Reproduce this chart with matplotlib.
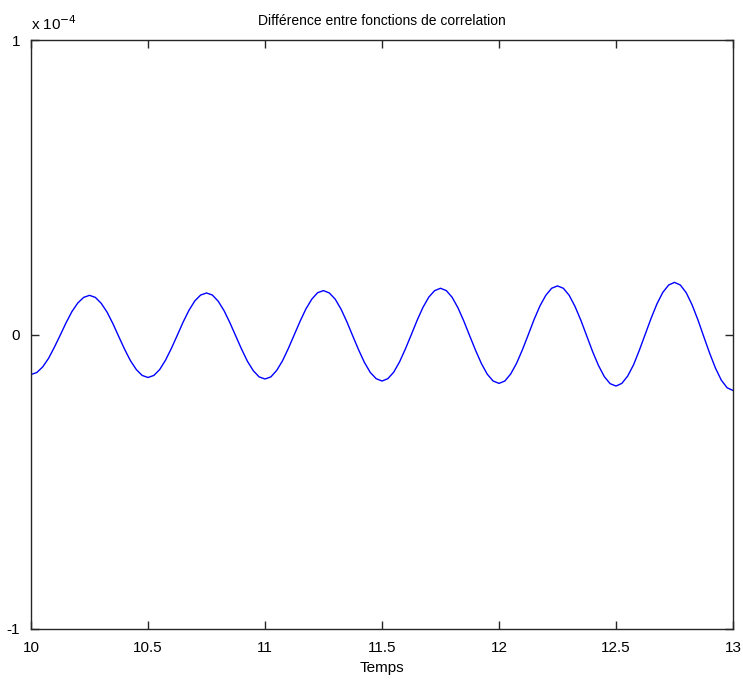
import numpy as np
from matplotlib import pyplot as plt

# time axis, one sample every 0.025 s
temps = np.arange(10.0, 13.0001, 0.025)

# difference values (units of 1e-4)
diff = [
    -0.136, -0.129, -0.110, -0.081, -0.043, -0.002, 0.040, 0.078, 0.107, 0.126,
    0.133, 0.126, 0.106, 0.076, 0.037, -0.007, -0.050, -0.089, -0.119, -0.139,
    -0.146, -0.139, -0.119, -0.087, -0.047, -0.003, 0.042, 0.082, 0.114, 0.134,
    0.141, 0.134, 0.113, 0.081, 0.040, -0.005, -0.050, -0.091, -0.123, -0.144,
    -0.151, -0.144, -0.122, -0.089, -0.047, -0.001, 0.045, 0.087, 0.120, 0.142,
    0.149, 0.141, 0.120, 0.086, 0.043, -0.005, -0.052, -0.095, -0.129, -0.150,
    -0.158, -0.150, -0.128, -0.093, -0.049, -0.001, 0.048, 0.092, 0.127, 0.149,
    0.157, 0.149, 0.126, 0.090, 0.045, -0.005, -0.054, -0.099, -0.135, -0.158,
    -0.166, -0.158, -0.134, -0.098, -0.052, -0.001, 0.051, 0.097, 0.133, 0.157,
    0.165, 0.157, 0.133, 0.095, 0.048, -0.005, -0.058, -0.105, -0.143, -0.167,
    -0.175, -0.166, -0.141, -0.103, -0.053, 0.001, 0.055, 0.104, 0.143, 0.168,
    0.177, 0.168, 0.142, 0.101, 0.050, -0.007, -0.063, -0.114, -0.155, -0.181,
    -0.190,
]

x_ticks = [10, 10.5, 11, 11.5, 12, 12.5, 13]
x_labels = ['10', '10.5', '11', '11.5', '12', '12.5', '13']
y_ticks = [-1e-4, 0, 1e-4]
y_labels = ['-1', '0', '1']

plt.rcParams['font.family'] = ['Liberation Sans', 'DejaVu Sans']

fig = plt.figure(figsize=(7.43, 6.81), dpi=100)
ax = fig.add_axes([31 / 743, 52 / 681, 702 / 743, 589 / 681])

ax.plot(temps, np.array(diff) * 1e-4, color=(0, 0, 1), linewidth=1.0)

ax.set_xlim(10, 13)
ax.set_ylim(-1e-4, 1e-4)
ax.set_xticks(x_ticks)
ax.set_xticklabels(x_labels)
ax.set_yticks(y_ticks)
ax.set_yticklabels(y_labels)
ax.tick_params(direction='in', top=True, right=True, length=6, width=1,
               labelsize=11, color='#262626')
ax.tick_params(axis='x', pad=9)
ax.tick_params(axis='y', pad=8)
for s in ax.spines.values():
    s.set_color('#262626')
    s.set_linewidth(1)

ax.text(0.0, 1.012, 'x 10$^{-4}$', transform=ax.transAxes, fontsize=11,
        ha='left', va='bottom')
ax.set_title('Différence entre fonctions de correlation', fontsize=10, pad=11)
ax.set_xlabel('Temps', fontsize=11, labelpad=4)

fig.savefig('out.png', dpi=100, facecolor='white')
